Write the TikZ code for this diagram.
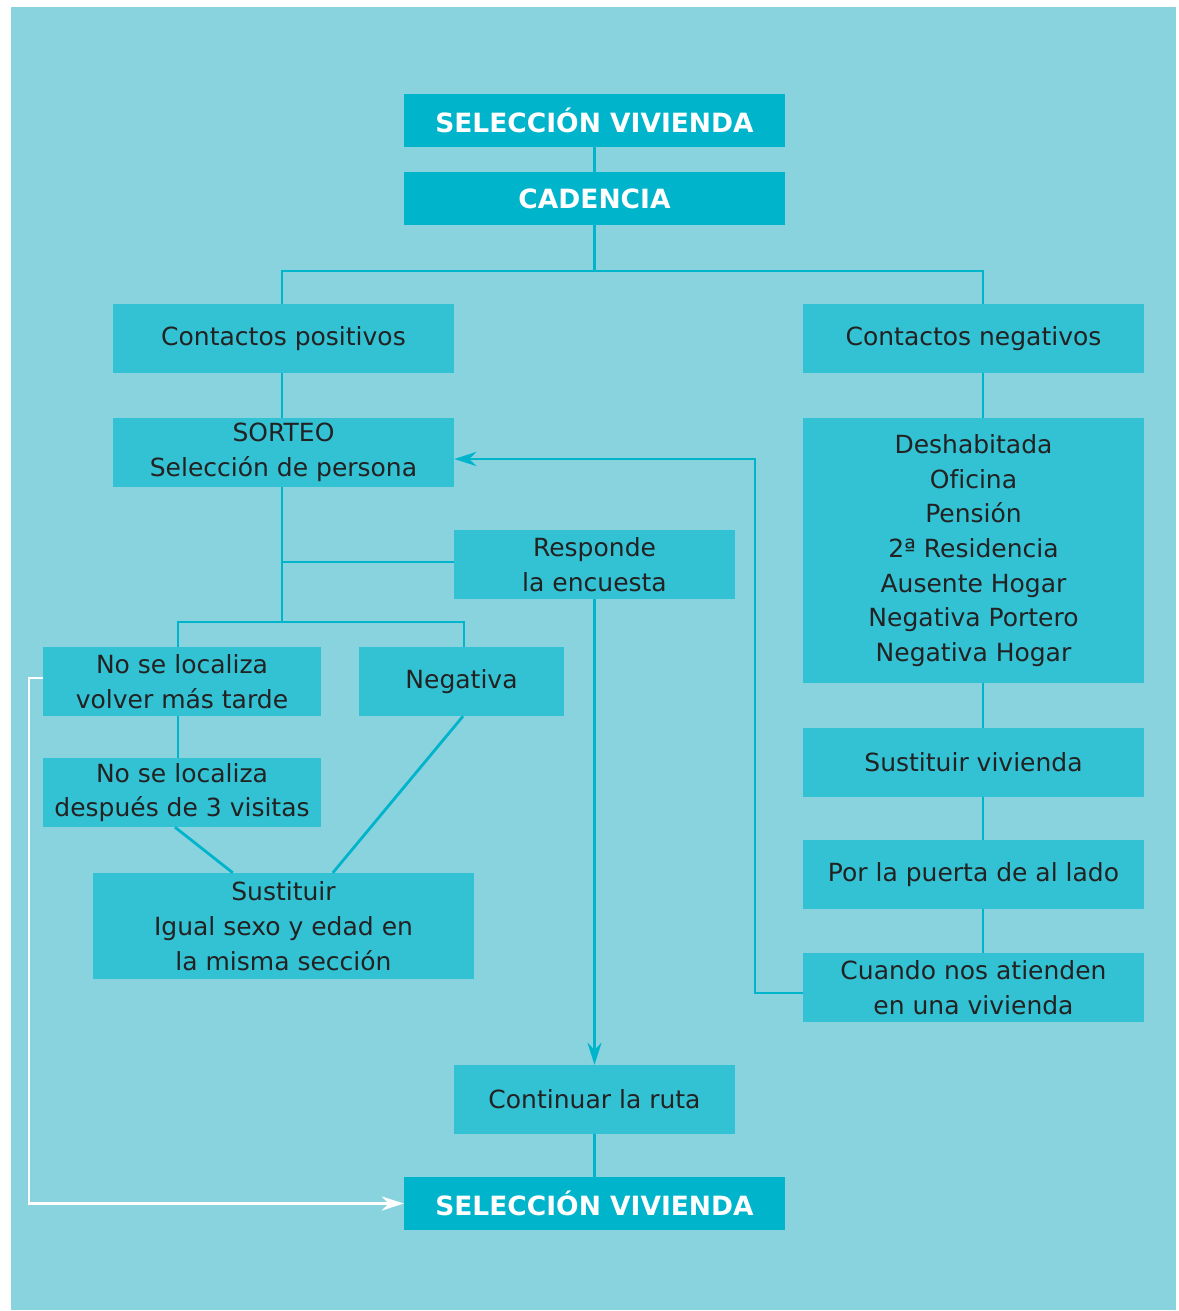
\documentclass[tikz,border=0pt]{standalone}
\usepackage{fontspec}
\setmainfont{DejaVu Sans}[Ligatures=NoCommon]
\usetikzlibrary{arrows.meta,calc}
\definecolor{bgc}{HTML}{88D3DE}
\definecolor{dark}{HTML}{00B4CC}
\definecolor{mid}{HTML}{33C1D4}
\definecolor{txt}{HTML}{222222}
\tikzset{
  box/.style={fill=mid, text=txt, inner sep=0pt, align=center,
    font=\fontsize{25}{34.7}\selectfont},
  boldbox/.style={fill=dark, text=white, inner sep=0pt, align=center,
    font=\fontsize{26.5}{30}\selectfont\bfseries},
  conn/.style={draw=dark, line width=2.8pt},
  wconn/.style={draw=white, line width=2.8pt},
  tip/.style={-{Stealth[length=22pt,width=14pt,inset=7pt]}}
}
\begin{document}
\begin{tikzpicture}[x=1pt,y=-1pt]
\useasboundingbox (0,0) rectangle (1178,1311);
\fill[bgc] (11,7) rectangle (1176,1310);
% nodes
\node[boldbox, minimum width=381, minimum height=53] (sv1) at (594.5,120.5) {SELECCIÓN VIVIENDA};
\node[boldbox, minimum width=381, minimum height=53] (cad) at (594.5,198.5) {CADENCIA};
\node[box, minimum width=341, minimum height=69] (cpos) at (283.5,338.5) {Contactos positivos};
\node[box, minimum width=341, minimum height=69] (cneg) at (973.5,338.5) {Contactos negativos};
\node[box, minimum width=341, minimum height=69] (sorteo) at (283.5,452.5) {SORTEO\\Selección de persona};
\node[box, minimum width=341, minimum height=265] (desh) at (973.5,550.5) {Deshabitada\\Oficina\\Pensión\\2ª Residencia\\Ausente Hogar\\Negativa Portero\\Negativa Hogar};
\node[box, minimum width=281, minimum height=69] (resp) at (594.5,564.5) {Responde\\la encuesta};
\node[box, minimum width=278, minimum height=69] (nsl1) at (182,681.5) {No se localiza\\volver más tarde};
\node[box, minimum width=205, minimum height=69] (neg) at (461.5,681.5) {Negativa};
\node[box, minimum width=278, minimum height=69] (nsl2) at (182,792.5) {No se localiza\\después de 3 visitas};
\node[box, minimum width=381, minimum height=106] (sust) at (283.5,926) {Sustituir\\Igual sexo y edad en\\la misma sección};
\node[box, minimum width=341, minimum height=69] (sviv) at (973.5,762.5) {Sustituir vivienda};
\node[box, minimum width=341, minimum height=69] (puerta) at (973.5,874.5) {Por la puerta de al lado};
\node[box, minimum width=341, minimum height=69] (cuando) at (973.5,987.5) {Cuando nos atienden\\en una vivienda};
\node[box, minimum width=281, minimum height=69] (cont) at (594.5,1099.5) {Continuar la ruta};
\node[boldbox, minimum width=381, minimum height=53] (sv2) at (594.5,1203.5) {SELECCIÓN VIVIENDA};
% connectors
\coordinate (j1) at (594.5,271);
\coordinate (j2) at (282,622);
\draw[conn] (sv1.south) -- (cad.north);
\draw[conn] (cad.south) -- (j1);
\draw[conn] (cpos.north -| 282,0) |- (j1) -| (cneg.north -| 983,0);
\draw[conn] (cpos.south -| 282,0) -- (sorteo.north -| 282,0);
\draw[conn] (cneg.south -| 983,0) -- (desh.north -| 983,0);
\draw[conn] (sorteo.south -| 282,0) -- (j2);
\draw[conn] (resp.west |- 0,562) -- (282,562);
\draw[conn] (nsl1.north -| 178,0) |- (j2) -| (neg.north -| 464,0);
\draw[conn] (nsl1.south -| 178,0) -- (nsl2.north -| 178,0);
\draw[conn] (nsl2.south -| 175,0) -- ($(sust.north west)+(140,0)$);
\draw[conn] (neg.south -| 463,0) -- ($(sust.north west)+(240,0)$);
\draw[conn] (desh.south -| 983,0) -- (sviv.north -| 983,0);
\draw[conn] (sviv.south -| 983,0) -- (puerta.north -| 983,0);
\draw[conn] (puerta.south -| 983,0) -- (cuando.north -| 983,0);
\draw[conn, tip] (cuando.west |- 0,993) -- (755,993) |- (sorteo.east |- 0,459);
\draw[conn, tip] (resp.south) -- (cont.north);
\draw[conn] (cont.south) -- (sv2.north);
\draw[wconn, tip] (nsl1.west |- 0,678) -- (29,678) |- (sv2.west);
\end{tikzpicture}
\end{document}
